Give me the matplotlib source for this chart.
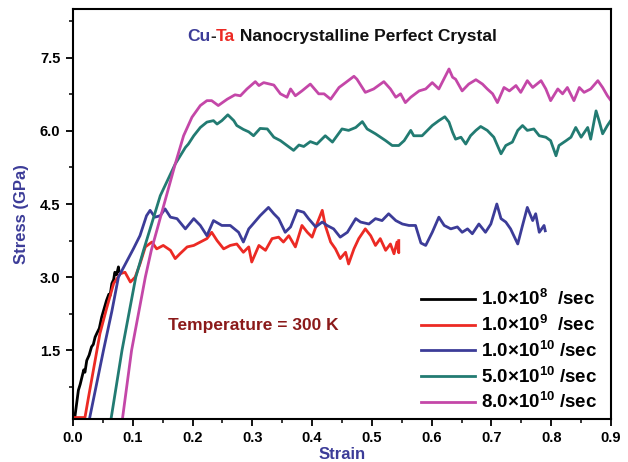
"""
Stress-strain curves for Cu-Ta nanocrystalline perfect crystal
at several strain rates (T = 300 K).
"""

import numpy as np
import matplotlib
matplotlib.use("Agg")
import matplotlib.pyplot as plt

plt.rcParams['font.family'] = ['Liberation Sans', 'DejaVu Sans']
plt.rcParams['font.weight'] = 'bold'
plt.rcParams['mathtext.fontset'] = 'custom'
plt.rcParams['mathtext.rm'] = 'Liberation Sans:bold'
plt.rcParams['mathtext.bf'] = 'Liberation Sans:bold'
plt.rcParams['mathtext.it'] = 'Liberation Sans:bold'
plt.rcParams['mathtext.default'] = 'bf'

# (strain, stress GPa)
rate_1e8 = [(0.0, 0.12), (0.003, 0.12), (0.009, 0.68), (0.012, 0.80), (0.015, 0.95),
            (0.018, 1.10), (0.020, 1.05), (0.023, 1.29), (0.027, 1.40), (0.031, 1.57),
            (0.034, 1.62), (0.037, 1.77), (0.040, 1.85), (0.044, 1.95), (0.048, 2.18),
            (0.052, 2.35), (0.056, 2.52), (0.060, 2.65), (0.062, 2.62), (0.065, 2.87),
            (0.068, 2.95), (0.070, 3.10), (0.073, 3.05), (0.076, 3.21), (0.077, 3.12)]

rate_1e9 = [(0.0, 0.12), (0.020, 0.12), (0.026, 0.54), (0.037, 1.29), (0.045, 1.84),
            (0.056, 2.35), (0.068, 2.87), (0.079, 3.07), (0.087, 3.10), (0.096, 2.90),
            (0.104, 3.00), (0.112, 3.27), (0.121, 3.62), (0.132, 3.72), (0.140, 3.58),
            (0.151, 3.65), (0.163, 3.55), (0.171, 3.38), (0.179, 3.48), (0.191, 3.62),
            (0.202, 3.65), (0.213, 3.72), (0.224, 3.79), (0.232, 3.92), (0.241, 3.75),
            (0.252, 3.58), (0.263, 3.65), (0.274, 3.68), (0.285, 3.51), (0.294, 3.62),
            (0.299, 3.31), (0.311, 3.65), (0.322, 3.55), (0.333, 3.79), (0.344, 3.82),
            (0.352, 3.72), (0.361, 3.85), (0.372, 3.62), (0.383, 4.06), (0.392, 3.92),
            (0.400, 3.82), (0.408, 4.09), (0.417, 4.37), (0.422, 4.06), (0.431, 3.72),
            (0.439, 3.58), (0.447, 3.38), (0.456, 3.51), (0.461, 3.27), (0.470, 3.58),
            (0.478, 3.79), (0.489, 3.99), (0.498, 3.85), (0.506, 3.65), (0.514, 3.79),
            (0.523, 3.55), (0.531, 3.68), (0.537, 3.48), (0.542, 3.72), (0.545, 3.50),
            (0.545, 3.75)]

rate_1e10 = [(0.028, 0.12), (0.051, 1.50), (0.065, 2.30), (0.076, 3.00), (0.101, 3.58),
             (0.112, 3.85), (0.123, 4.26), (0.129, 4.37), (0.137, 4.23), (0.146, 4.26),
             (0.154, 4.40), (0.163, 4.23), (0.174, 4.20), (0.188, 3.99), (0.202, 4.20),
             (0.213, 4.06), (0.224, 3.85), (0.235, 4.16), (0.249, 4.06), (0.263, 4.06),
             (0.277, 3.92), (0.285, 3.72), (0.294, 3.99), (0.299, 4.06), (0.313, 4.26),
             (0.327, 4.43), (0.336, 4.30), (0.344, 4.20), (0.355, 3.92), (0.364, 4.03),
             (0.375, 4.37), (0.386, 4.33), (0.394, 4.20), (0.406, 4.03), (0.417, 4.13),
             (0.425, 4.06), (0.436, 3.99), (0.447, 3.82), (0.459, 3.92), (0.473, 4.20),
             (0.481, 4.13), (0.495, 4.09), (0.506, 4.20), (0.517, 4.16), (0.528, 4.30),
             (0.540, 4.16), (0.551, 4.09), (0.562, 4.06), (0.573, 4.06), (0.582, 3.70),
             (0.590, 3.65), (0.601, 3.92), (0.612, 4.23), (0.621, 4.06), (0.632, 3.99),
             (0.643, 4.03), (0.651, 3.92), (0.660, 3.99), (0.668, 3.89), (0.679, 4.09),
             (0.690, 3.92), (0.699, 4.09), (0.709, 4.50), (0.716, 4.20), (0.724, 4.13),
             (0.732, 3.99), (0.744, 3.68), (0.752, 4.06), (0.760, 4.43), (0.769, 4.16),
             (0.774, 4.30), (0.780, 3.92), (0.788, 4.06), (0.790, 3.95)]

rate_5e10 = [(0.064, 0.12), (0.082, 1.50), (0.105, 3.00), (0.118, 3.55), (0.146, 4.67),
             (0.171, 5.32), (0.188, 5.66), (0.193, 5.73), (0.202, 5.90), (0.213, 6.07),
             (0.224, 6.18), (0.235, 6.21), (0.241, 6.14), (0.249, 6.21), (0.259, 6.33),
             (0.269, 6.21), (0.274, 6.11), (0.285, 6.03), (0.294, 5.98), (0.302, 5.90),
             (0.313, 6.05), (0.325, 6.04), (0.336, 5.87), (0.347, 5.80), (0.358, 5.70),
             (0.369, 5.60), (0.378, 5.71), (0.386, 5.68), (0.397, 5.78), (0.408, 5.73),
             (0.422, 5.90), (0.434, 5.77), (0.450, 6.04), (0.461, 6.01), (0.473, 6.07),
             (0.484, 6.19), (0.492, 6.04), (0.506, 5.94), (0.523, 5.80), (0.534, 5.70),
             (0.545, 5.70), (0.554, 5.80), (0.565, 6.01), (0.570, 5.90), (0.584, 5.90),
             (0.601, 6.11), (0.612, 6.21), (0.622, 6.29), (0.629, 6.18), (0.635, 5.97),
             (0.640, 5.83), (0.649, 5.87), (0.657, 5.73), (0.665, 5.90), (0.674, 6.01),
             (0.682, 6.09), (0.693, 6.01), (0.704, 5.87), (0.716, 5.53), (0.724, 5.70),
             (0.735, 5.77), (0.744, 6.01), (0.752, 6.11), (0.760, 6.01), (0.771, 6.04),
             (0.780, 5.90), (0.791, 5.87), (0.799, 5.80), (0.808, 5.49), (0.813, 5.70),
             (0.825, 5.80), (0.833, 5.87), (0.841, 6.07), (0.850, 5.87), (0.861, 6.07),
             (0.866, 5.83), (0.875, 6.41), (0.880, 6.21), (0.886, 5.94), (0.894, 6.11),
             (0.900, 6.22)]

rate_8e10 = [(0.083, 0.12), (0.098, 1.50), (0.121, 3.00), (0.131, 3.55), (0.171, 5.32),
             (0.185, 5.90), (0.199, 6.28), (0.213, 6.52), (0.224, 6.62), (0.232, 6.62),
             (0.243, 6.52), (0.258, 6.65), (0.271, 6.74), (0.280, 6.72), (0.291, 6.86),
             (0.305, 7.01), (0.311, 6.93), (0.319, 6.99), (0.336, 6.94), (0.347, 6.76),
             (0.358, 6.69), (0.364, 6.86), (0.372, 6.72), (0.383, 6.82), (0.397, 6.96),
             (0.411, 6.76), (0.420, 6.76), (0.431, 6.65), (0.445, 6.89), (0.456, 6.99),
             (0.470, 7.12), (0.475, 7.06), (0.489, 6.79), (0.503, 6.86), (0.520, 7.01),
             (0.531, 6.86), (0.540, 6.69), (0.548, 6.76), (0.556, 6.58), (0.565, 6.69),
             (0.579, 6.82), (0.590, 6.86), (0.601, 6.99), (0.612, 6.86), (0.629, 7.27),
             (0.635, 7.10), (0.640, 7.06), (0.651, 6.82), (0.662, 6.96), (0.674, 7.05),
             (0.685, 6.96), (0.693, 6.86), (0.702, 6.76), (0.710, 6.58), (0.721, 6.89),
             (0.730, 6.82), (0.741, 6.93), (0.749, 6.79), (0.760, 7.03), (0.769, 6.89),
             (0.783, 7.03), (0.791, 6.86), (0.799, 6.62), (0.811, 6.86), (0.819, 6.76),
             (0.827, 6.89), (0.838, 6.62), (0.847, 6.89), (0.855, 6.79), (0.866, 6.86),
             (0.878, 7.03), (0.886, 6.89), (0.894, 6.72), (0.900, 6.62)]

series = [rate_1e8, rate_1e9, rate_1e10, rate_5e10, rate_8e10]
labels = [r'1.0×10$^{8}$  /sec', r'1.0×10$^{9}$  /sec', r'1.0×10$^{10}$ /sec',
          r'5.0×10$^{10}$ /sec', r'8.0×10$^{10}$ /sec']
colors = ['#000000', '#ec2a24', '#3c3c98', '#227b72', '#c447a8']

x_ticks = [0.0, 0.1, 0.2, 0.3, 0.4, 0.5, 0.6, 0.7, 0.8, 0.9]
y_ticks = [1.5, 3.0, 4.5, 6.0, 7.5]

fig = plt.figure(figsize=(6.28, 4.62), dpi=100)
ax = fig.add_axes([73 / 628, 1 - 419 / 462, 538 / 628, 410 / 462])

for pts, lab, col in zip(series, labels, colors):
    arr = np.array(pts)
    ax.plot(arr[:, 0], arr[:, 1], color=col, lw=2.0, label=lab)

ax.set_xlim(0, 0.9)
ax.set_ylim(0.09, 8.5)
ax.set_xticks(x_ticks)
ax.set_xticks(np.arange(0.05, 0.9, 0.1), minor=True)
ax.set_yticks(y_ticks)
ax.set_yticks([0.75, 2.25, 3.75, 5.25, 6.75, 8.25], minor=True)
ax.set_xticklabels([f'{v:.1f}' for v in x_ticks], fontsize=10.5, fontweight='bold')
ax.set_yticklabels([f'{v:.1f}' for v in y_ticks], fontsize=10.5, fontweight='bold')
ax.tick_params(which='major', direction='out', length=5, width=1.3, pad=4)
ax.tick_params(which='minor', direction='out', length=3, width=1.1)
for sp in ax.spines.values():
    sp.set_linewidth(1.5)

ax.set_xlabel('Strain', color='#3c3c98', fontsize=12, fontweight='bold', labelpad=1)
ax.set_ylabel('Stress (GPa)', color='#3c3c98', fontsize=12, fontweight='bold', labelpad=8)

# coloured title made of three pieces
ty = 0.932
fs_title = 12.5
t1 = ax.text(0.212, ty, 'Cu', color='#3c3c98', fontsize=fs_title, fontweight='bold',
             transform=ax.transAxes, va='center')
fig.canvas.draw()
bb = t1.get_window_extent().transformed(ax.transAxes.inverted())
t2 = ax.text(bb.x1, ty, '-', color='#222222', fontsize=fs_title, fontweight='bold',
             transform=ax.transAxes, va='center')
bb = t2.get_window_extent().transformed(ax.transAxes.inverted())
t3 = ax.text(bb.x1, ty, 'Ta', color='#ec2a24', fontsize=fs_title, fontweight='bold',
             transform=ax.transAxes, va='center')
bb = t3.get_window_extent().transformed(ax.transAxes.inverted())
ax.text(bb.x1, ty, ' Nanocrystalline Perfect Crystal', color='#111111', fontsize=fs_title,
        fontweight='bold', transform=ax.transAxes, va='center')

ax.text(0.177, 0.228, 'Temperature = 300 K', color='#8b1a1a', fontsize=12.5,
        fontweight='bold', transform=ax.transAxes, va='center')

leg = ax.legend(loc='lower right', bbox_to_anchor=(1.005, -0.025), frameon=False,
                fontsize=13.5, handlelength=2.9, handletextpad=0.3, labelspacing=0.3)

fig.savefig('out.png', dpi=100)
